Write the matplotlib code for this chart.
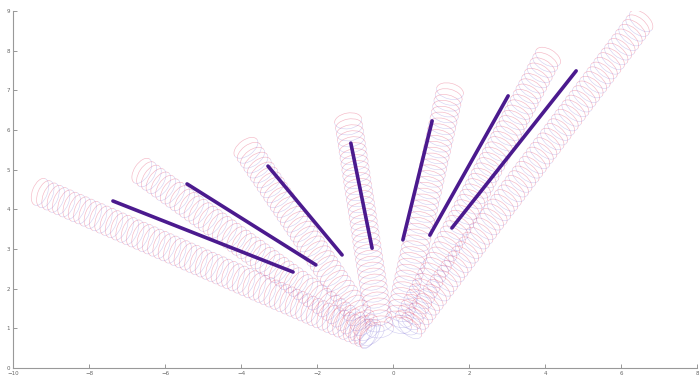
import numpy as np
import matplotlib
matplotlib.use("Agg")
import matplotlib.pyplot as plt
from matplotlib.patches import Arc

# tube centre lines: lower end (x0, y0) -> capped end (x1, y1)
tube_x0 = [-0.66, -0.62, -0.55, -0.34, 0.13, 0.32, 0.45]
tube_y0 = [0.83, 0.83, 0.83, 0.96, 1.08, 1.08, 1.01]
tube_x1 = [-9.29, -6.61, -3.87, -1.18, 1.50, 4.08, 6.53]
tube_y1 = [4.44, 4.97, 5.55, 6.23, 6.98, 7.84, 8.75]

# thick purple segments beside each tube
seg_x0 = [-7.37, -5.42, -3.29, -1.11, 1.03, 3.03, 4.82]
seg_y0 = [4.21, 4.64, 5.09, 5.67, 6.23, 6.86, 7.49]
seg_x1 = [-2.63, -2.03, -1.34, -0.55, 0.26, 0.97, 1.55]
seg_y1 = [2.42, 2.60, 2.85, 3.02, 3.23, 3.35, 3.53]

xticks = [-10, -8, -6, -4, -2, 0, 2, 4, 6, 8]
yticks = [0, 1, 2, 3, 4, 5, 6, 7, 8, 9]

radius = 0.36
step = 0.15

fig = plt.figure(figsize=(6.99, 3.78), dpi=100)
ax = fig.add_axes([13 / 699, 10 / 378, 684 / 699, 357 / 378])

for x0, y0, x1, y1 in zip(tube_x0, tube_y0, tube_x1, tube_y1):
    dx, dy = x1 - x0, y1 - y0
    length = np.hypot(dx, dy)
    ang = np.degrees(np.arctan2(dy, dx))
    n = int(length / step) + 1
    for t in np.linspace(0, 1, n):
        cx, cy = x0 + t * dx, y0 + t * dy
        # front half of ring in red, back half in blue
        ax.add_patch(Arc((cx, cy), 0.55 * 2 * radius, 2 * radius, angle=ang,
                         theta1=-90, theta2=90, color='#e8607e', lw=0.45, alpha=0.45))
        ax.add_patch(Arc((cx, cy), 0.55 * 2 * radius, 2 * radius, angle=ang,
                         theta1=90, theta2=270, color='#6a5ad0', lw=0.4, alpha=0.3))

for x0, y0, x1, y1 in zip(seg_x0, seg_y0, seg_x1, seg_y1):
    ax.plot([x0, x1], [y0, y1], color='#4b1a8e', lw=2.6, solid_capstyle='round')

ax.set_xlim(-10, 8)
ax.set_ylim(0, 9)
ax.set_xticks(xticks)
ax.set_yticks(yticks)
ax.tick_params(direction='in', length=3, width=0.6, colors='#888888',
               labelsize=4, labelcolor='#666666', pad=2)
for s in ['top', 'right']:
    ax.spines[s].set_visible(False)
for s in ['left', 'bottom']:
    ax.spines[s].set_color('#999999')
    ax.spines[s].set_linewidth(0.8)

plt.savefig("out.png", dpi=100)
